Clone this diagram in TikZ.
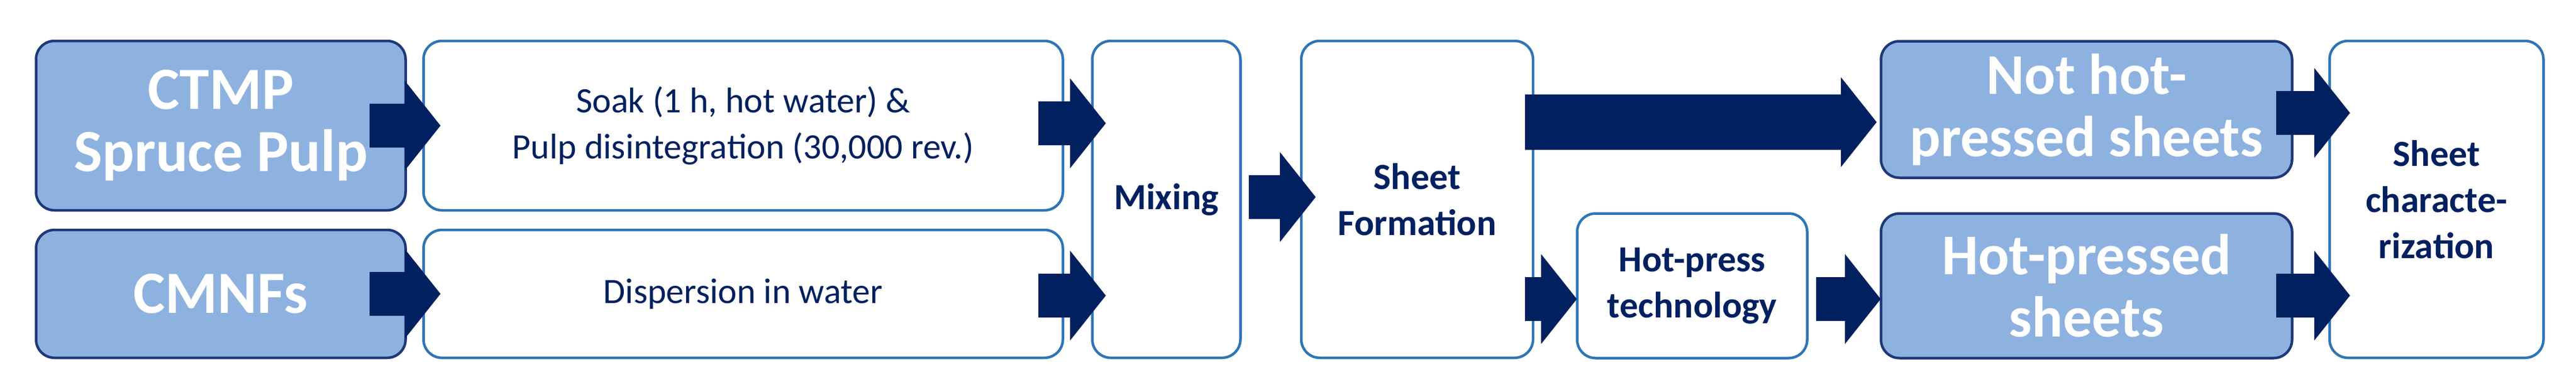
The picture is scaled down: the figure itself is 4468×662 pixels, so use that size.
\documentclass[tikz,border=0pt]{standalone}
\usepackage{fontspec}
\setmainfont{Carlito}
\usetikzlibrary{calc}
\definecolor{navy}{RGB}{0,32,96}
\definecolor{fillb}{RGB}{142,178,224}
\definecolor{edgeb}{RGB}{31,56,120}
\definecolor{edgew}{RGB}{46,117,182}
\tikzset{
 bx/.style={rounded corners=32pt,line width=4.5pt,inner sep=0pt,align=center},
 blue/.style={bx,fill=fillb,draw=edgeb,text=white,font=\fontsize{104}{108}\selectfont\bfseries},
 white/.style={bx,fill=white,draw=edgew,text=navy,font=\fontsize{62}{80}\selectfont},
 whiteb/.style={white,font=\fontsize{64}{80}\selectfont\bfseries},
 arr/.style={fill=navy},
}
\newcommand\barrow[4]{% from, to, half body, half head
 \fill[arr] let \p1=(#1), \p2=(#2) in
 (\x1,\y1+#3) -- (\x2-62pt,\y1+#3) -- (\x2-62pt,\y1+#4) -- (\x2,\y1)
 -- (\x2-62pt,\y1-#4) -- (\x2-62pt,\y1-#3) -- (\x1,\y1-#3) -- cycle;}
\begin{document}
\begin{tikzpicture}[x=1pt,y=-1pt]
\path[use as bounding box] (0,0) rectangle (4468,662);
\node[blue,minimum width=641pt,minimum height=294pt] (ctmp) at (383,218) {CTMP\\Spruce Pulp};
\node[blue,minimum width=641pt,minimum height=222pt] (cmnf) at (383,510) {CMNFs};
\node[white,minimum width=1109pt,minimum height=294pt] (soak) at (1289,218) {Soak (1 h, hot water) \&\\Pulp disintegration (30,000 rev.)};
\node[white,minimum width=1109pt,minimum height=222pt] (disp) at (1289,510) {Dispersion in water};
\node[whiteb,minimum width=257pt,minimum height=550pt] (mix) at (2023,346) {Mixing};
\node[whiteb,minimum width=402pt,minimum height=550pt] (sf) at (2458,346) {Sheet\\Formation};
\node[whiteb,minimum width=399pt,minimum height=251pt] (hp) at (2935,496) {Hot-press\\technology};
\node[blue,font=\fontsize{100}{108}\selectfont\bfseries,minimum width=713pt,minimum height=237pt] (nhp) at (3619,190) {Not hot-\\pressed sheets};
\node[blue,font=\fontsize{100}{108}\selectfont\bfseries,minimum width=713pt,minimum height=251pt] (hps) at (3619,496) {Hot-pressed\\sheets};
\node[whiteb,minimum width=371pt,minimum height=550pt] (char) at (4226,346) {Sheet\\characte-\\rization};
% arrow endpoints
\coordinate (a1s) at (641,218); \coordinate (a1e) at (764,218);
\coordinate (a2s) at (641,510); \coordinate (a2e) at (764,510);
\coordinate (a3s) at (1801,214); \coordinate (a3e) at (1918,214);
\coordinate (a4s) at (1801,513); \coordinate (a4e) at (1918,513);
\coordinate (a5s) at (2166,342); \coordinate (a5e) at (2282,342);
\coordinate (a6s) at (2645,519); \coordinate (a6e) at (2735,519);
\coordinate (a7s) at (2645,212); \coordinate (a7e) at (3255,212);
\coordinate (a8s) at (3150,519); \coordinate (a8e) at (3262,519);
\coordinate (a9s) at (3948,196); \coordinate (a9e) at (4076,196);
\coordinate (a10s) at (3948,513); \coordinate (a10e) at (4076,513);
\barrow{a1s}{a1e}{38pt}{78pt}
\barrow{a2s}{a2e}{38pt}{78pt}
\barrow{a3s}{a3e}{38pt}{78pt}
\barrow{a4s}{a4e}{38pt}{78pt}
\barrow{a5s}{a5e}{38pt}{78pt}
\barrow{a6s}{a6e}{38pt}{78pt}
\barrow{a7s}{a7e}{48pt}{78pt}
\barrow{a8s}{a8e}{38pt}{78pt}
\barrow{a9s}{a9e}{38pt}{78pt}
\barrow{a10s}{a10e}{38pt}{78pt}
\end{tikzpicture}
\end{document}
